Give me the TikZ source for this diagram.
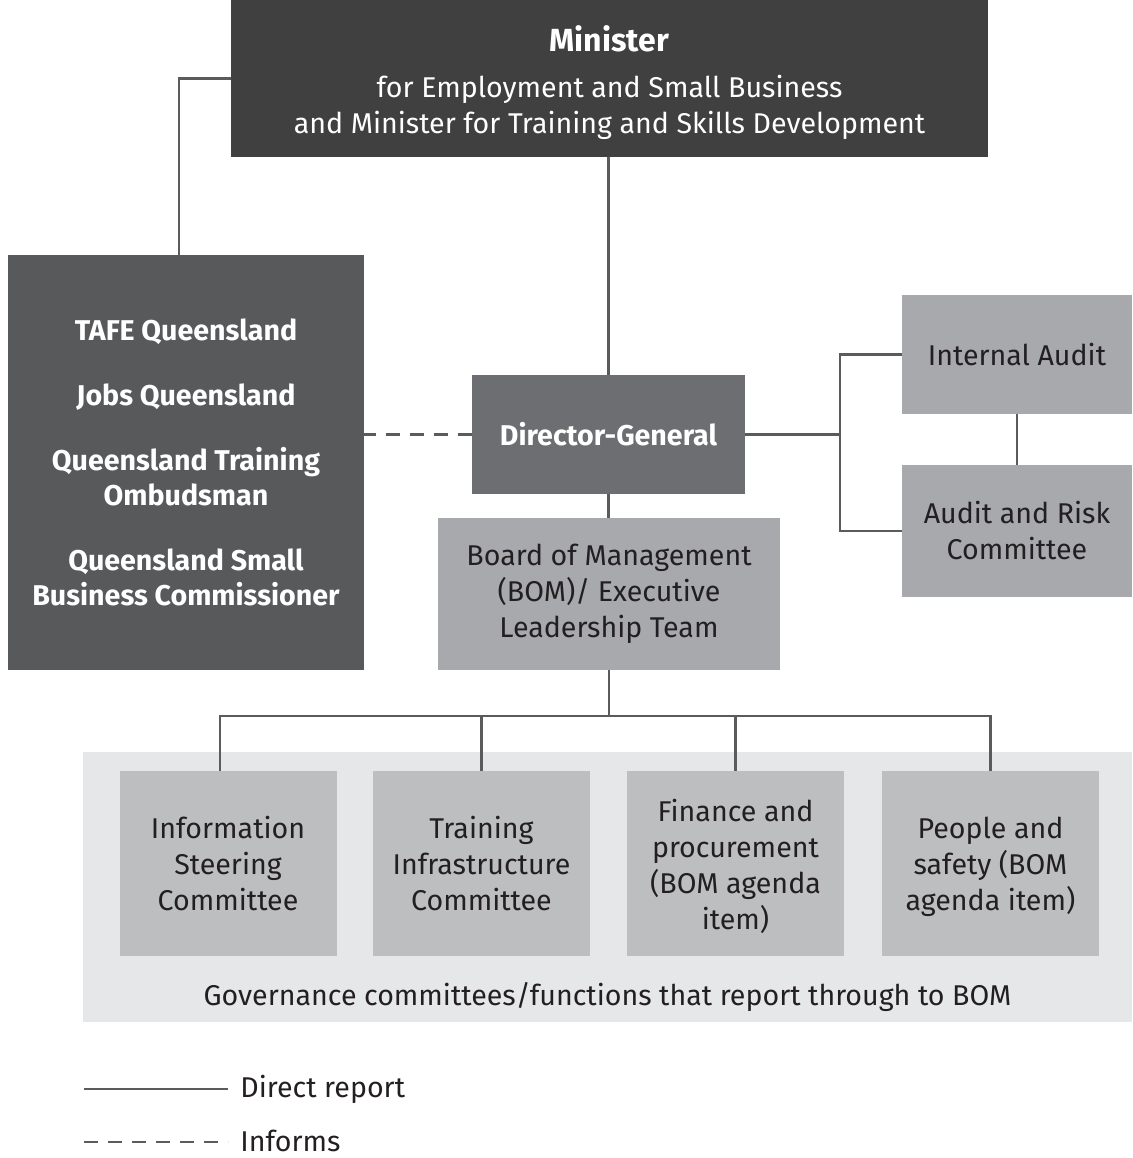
\documentclass[tikz,border=0pt]{standalone}
\usepackage{fontspec}
\setmainfont{Fira Sans}
\definecolor{ministergrey}{HTML}{404041}
\definecolor{agencygrey}{HTML}{58595B}
\definecolor{dggrey}{HTML}{6D6E71}
\definecolor{midgrey}{HTML}{A7A9AC}
\definecolor{committeegrey}{HTML}{BCBEC0}
\definecolor{panelgrey}{HTML}{E6E7E8}
\definecolor{linegrey}{HTML}{5A5B5D}
\definecolor{inkgrey}{HTML}{231F20}
\tikzset{
  box/.style={rectangle, inner sep=0pt, align=center, text=inkgrey,
    font=\fontsize{14.3}{18}\selectfont},
  lightbox/.style={box, fill=midgrey},
  combox/.style={box, fill=committeegrey, minimum width=108.5pt, minimum height=92.5pt},
  darkbox/.style={box, text=white},
  link/.style={draw=linegrey, line width=1.4pt},
  informs/.style={link, dash pattern=on 7pt off 5pt}
}
\begin{document}
\begin{tikzpicture}[x=0.5pt,y=-0.5pt]
		\useasboundingbox (0,0) rectangle (1132,1158);
		% boxes
		\node[darkbox, fill=ministergrey, minimum width=378.5pt, minimum height=78.5pt] (minister) at (609.5,78.5) {{\fontsize{16}{18}\selectfont\bfseries\rule{0pt}{17.5pt}Minister}\\[5pt]for Employment and Small Business\\and Minister for Training and Skills Development};
		\node[darkbox, fill=agencygrey, minimum width=178pt, minimum height=207.5pt, font=\fontsize{14.3}{17.5}\selectfont\bfseries] (agencies) at (186,462.5) {TAFE Queensland\\[15pt]Jobs Queensland\\[15pt]Queensland Training\\Ombudsman\\[15pt]Queensland Small\\Business Commissioner};
		\node[darkbox, fill=dggrey, minimum width=136.5pt, minimum height=59.5pt, font=\fontsize{14.3}{18}\selectfont\bfseries] (dg) at (608.5,434.5) {Director-General};
		\node[lightbox, minimum width=171pt, minimum height=76pt] (bom) at (609,594) {Board of Management\\(BOM)/ Executive\\Leadership Team};
		\node[lightbox, minimum width=115pt, minimum height=59.5pt] (audit) at (1017,354.5) {Internal Audit};
		\node[lightbox, minimum width=115pt, minimum height=66pt] (risk) at (1017,531) {Audit and Risk\\Committee};
		\node[fill=panelgrey, minimum width=524.5pt, minimum height=135pt, inner sep=0pt] (panel) at (607.5,887) {};
		\node[combox] (info) at (228,863.5) {Information\\Steering\\Committee};
		\node[combox] (train) at (481.5,863.5) {Training\\Infrastructure\\Committee};
		\node[combox] (fin) at (735.5,863.5) {\rule{0pt}{14pt}Finance and\\procurement\\(BOM agenda\\item)};
		\node[combox] (people) at (990.5,863.5) {\rule{0pt}{14pt}People and\\safety (BOM\\agenda item)};
		\node[box] (govtext) at (607.5,997) {Governance committees/functions that report through to BOM};
		% connectors
		\draw[link] (minister.west) -| ([xshift=-3.5pt]agencies.north);
		\draw[link] (dg.north) -- (dg.north |- minister.south);
		\draw[informs] (dg.west) -- (dg.west -| agencies.east);
		\coordinate (split) at (840,434.5);
		\draw[link] (dg.east) -- (split);
		\draw[link] (audit.west) -| (split) |- (risk.west);
		\draw[link] (audit.south) -- (risk.north);
		\draw[link] (dg.south) -- (dg.south |- bom.north);
		\coordinate (bus) at (609,716);
		\draw[link] (bom.south) -- (bus);
		\draw[link] ([xshift=-4pt]info.north) |- (bus);
		\foreach \c in {train,fin,people}
			\draw[link] (\c.north) |- (bus);
		% legend
		\coordinate (solidA) at (84,1089);
		\coordinate (solidB) at (228,1089);
		\coordinate (dashA) at (84,1142);
		\coordinate (dashB) at (228,1142);
		\draw[link] (solidA) -- (solidB);
		\draw[informs] (dashA) -- (dashB);
		\node[box, anchor=west] (direct) at (240,1089) {Direct report};
		\node[box, anchor=west] (inform) at (240,1141) {Informs};
	    \end{tikzpicture}
\end{document}
